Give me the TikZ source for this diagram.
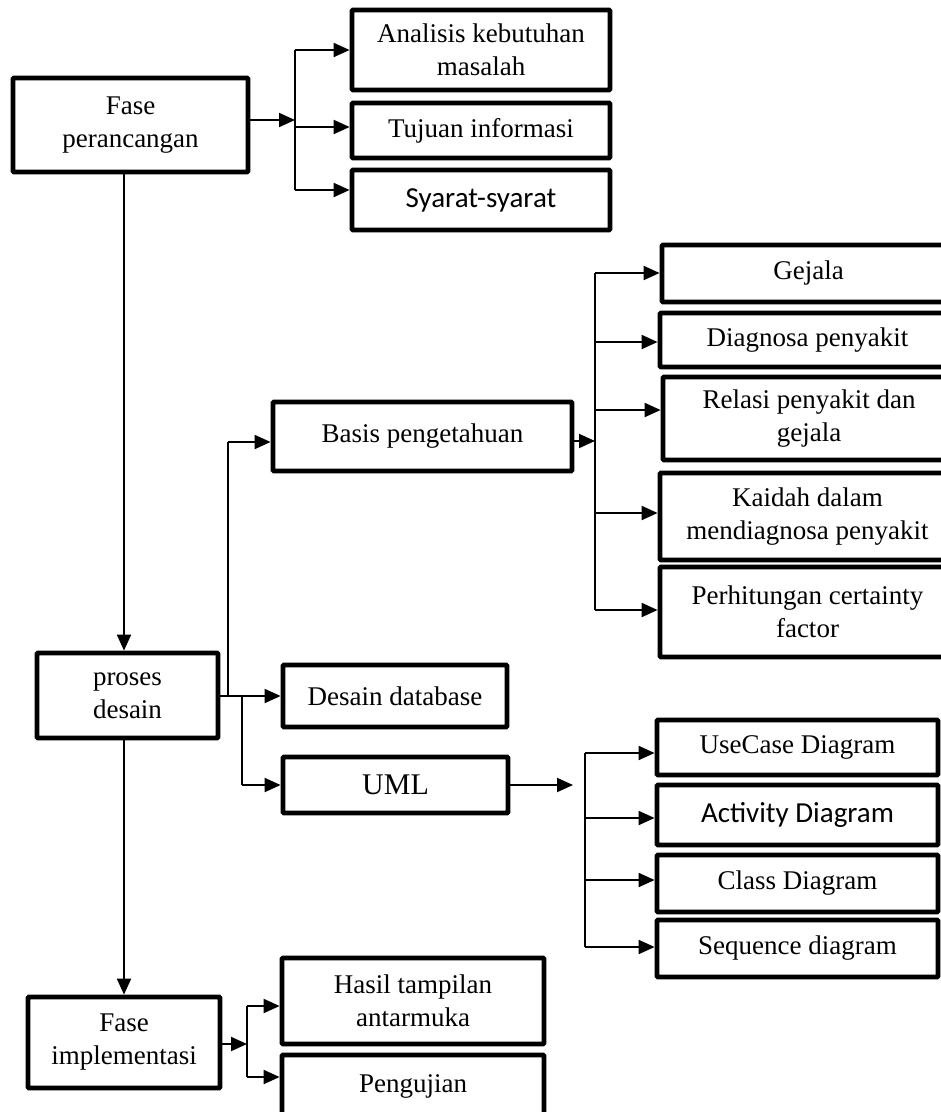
\documentclass[tikz,border=0pt]{standalone}
\usepackage{fontspec}
\setmainfont{Liberation Serif}
\newfontfamily\calib{Carlito}
\usetikzlibrary{arrows.meta}
\begin{document}
\begin{tikzpicture}[x=1pt,y=-1pt,
  box/.style={draw,line width=4.8pt,rounded corners=1pt,inner sep=0pt,align=center,
    font=\fontsize{27}{33}\selectfont},
  ln/.style={line width=2pt},
  arr/.style={line width=2pt,-{Triangle[length=16pt,width=14pt]}}]
\clip (0,0) rectangle (941,1112);
\fill[white] (0,0) rectangle (941,1112);

% first phase
\node[box,minimum width=235,minimum height=94] (fase) at (130.5,125) {Fase\\perancangan};
\node[box,minimum width=258,minimum height=80] (analisis) at (481,50) {Analisis kebutuhan\\masalah};
\node[box,minimum width=258,minimum height=55] (tujuan) at (481,130.5) {Tujuan informasi};
\node[box,minimum width=258,minimum height=60,font=\calib\fontsize{29}{33}\selectfont] (syarat) at (481,200) {Syarat-syarat};

% design
\node[box,minimum width=181,minimum height=85] (proses) at (127.5,695.5) {proses\\desain};
\node[box,minimum width=299,minimum height=69] (basis) at (422.5,436.5) {Basis pengetahuan};
\node[box,minimum width=224,minimum height=62] (desain) at (395,696) {Desain database};
\node[box,minimum width=225,minimum height=56,font=\fontsize{30}{33}\selectfont] (uml) at (395.5,785) {UML};

\node[box,minimum width=293,minimum height=57] (gejala) at (808.5,273.5) {Gejala};
\node[box,minimum width=295,minimum height=54] (diagnosa) at (807.5,340) {Diagnosa penyakit};
\node[box,minimum width=292,minimum height=83] (relasi) at (809,418.5) {Relasi penyakit dan\\gejala};
\node[box,minimum width=295,minimum height=87] (kaidah) at (807.5,516.5) {Kaidah dalam\\mendiagnosa penyakit};
\node[box,minimum width=295,minimum height=90] (hitung) at (807.5,612) {Perhitungan certainty\\factor};

\node[box,minimum width=281,minimum height=55] (usecase) at (797.5,747.5) {UseCase Diagram};
\node[box,minimum width=281,minimum height=60,font=\calib\fontsize{29}{33}\selectfont] (activity) at (797.5,815) {Activity Diagram};
\node[box,minimum width=281,minimum height=57] (class) at (797.5,883.5) {Class Diagram};
\node[box,minimum width=281,minimum height=57] (sequence) at (797.5,948.5) {Sequence diagram};

% implementation
\node[box,minimum width=192,minimum height=91] (impl) at (124,1042.5) {Fase\\implementasi};
\node[box,minimum width=262,minimum height=86] (hasil) at (413,1001) {Hasil tampilan\\antarmuka};
\node[box,minimum width=262,minimum height=63] (uji) at (413,1086.5) {Pengujian};

% connectors: first phase bus
\coordinate (ja) at (295,120);
\coordinate (ja1) at (295,50);
\coordinate (ja2) at (295,127);
\coordinate (ja3) at (295,190);
\draw[arr] (fase.east |- ja) -- (ja);
\draw[ln] (ja1) -- (ja3);
\draw[arr] (ja1) -- (ja1 -| analisis.west);
\draw[arr] (ja2) -- (ja2 -| tujuan.west);
\draw[arr] (ja3) -- (ja3 -| syarat.west);

% main vertical flow
\coordinate (pa) at (124,0);
\draw[arr] (pa |- fase.south) -- (pa |- proses.north);
\draw[arr] (pa |- proses.south) -- (pa |- impl.north);

% design branches
\coordinate (pb) at (228,696);
\coordinate (pc) at (228,442);
\coordinate (pd) at (242,696);
\coordinate (pe) at (242,785);
\draw[arr] (proses.east |- pb) -- (pb -| desain.west);
\draw[ln] (pb) -- (pc);
\draw[arr] (pc) -- (pc -| basis.west);
\draw[ln] (pd) -- (pe);
\draw[arr] (pe) -- (pe -| uml.west);

% knowledge base bus
\coordinate (jb) at (595,441);
\coordinate (jb1) at (595,273);
\coordinate (jb2) at (595,342);
\coordinate (jb3) at (595,410);
\coordinate (jb4) at (595,513);
\coordinate (jb5) at (595,610);
\draw[arr] (basis.east |- jb) -- (jb);
\draw[ln] (jb1) -- (jb5);
\draw[arr] (jb1) -- (jb1 -| gejala.west);
\draw[arr] (jb2) -- (jb2 -| diagnosa.west);
\draw[arr] (jb3) -- (jb3 -| relasi.west);
\draw[arr] (jb4) -- (jb4 -| kaidah.west);
\draw[arr] (jb5) -- (jb5 -| hitung.west);

% UML bus
\coordinate (ju) at (573,785);
\coordinate (ju1) at (585,753);
\coordinate (ju2) at (585,818);
\coordinate (ju3) at (585,880);
\coordinate (ju4) at (585,947);
\draw[arr] (uml.east |- ju) -- (ju);
\draw[ln] (ju1) -- (ju4);
\draw[arr] (ju1) -- (ju1 -| usecase.west);
\draw[arr] (ju2) -- (ju2 -| activity.west);
\draw[arr] (ju3) -- (ju3 -| class.west);
\draw[arr] (ju4) -- (ju4 -| sequence.west);

% implementation bus
\coordinate (ji) at (247,1044);
\coordinate (ji1) at (247,1006);
\coordinate (ji2) at (247,1077);
\draw[arr] (impl.east |- ji) -- (ji);
\draw[ln] (ji1) -- (ji2);
\draw[arr] (ji1) -- (ji1 -| hasil.west);
\draw[arr] (ji2) -- (ji2 -| uji.west);
\end{tikzpicture}
\end{document}
